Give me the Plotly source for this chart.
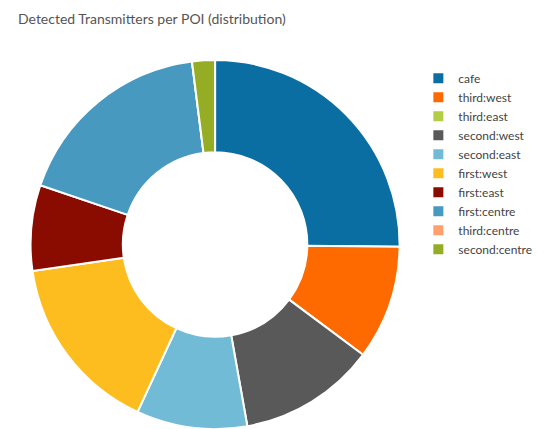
import plotly.graph_objects as go

labels = ["cafe", "third:west", "third:east", "second:west", "second:east",
          "first:west", "first:east", "first:centre", "third:centre", "second:centre"]
values = [25.2, 10.0, 0, 12.0, 9.7, 15.8, 7.5, 17.8, 0, 2.0]
colors = ["#0b6ea2", "#ff6a00", "#b3cd45", "#595959", "#71bbd6",
          "#fdbd1f", "#8a0b00", "#4899c0", "#ffa06e", "#95ad24"]

fig = go.Figure(go.Pie(
    labels=labels, values=values, hole=0.5, sort=False,
    direction="clockwise", rotation=0, textinfo="none",
    marker=dict(colors=colors, line=dict(color="white", width=2)),
    domain=dict(x=[0.0, 0.72], y=[0, 1]),
))

fig.update_layout(
    width=555, height=429,
    paper_bgcolor="white",
    font=dict(family="Lato", size=12, color="#444"),
    title=dict(text="Detected Transmitters per POI (distribution)", x=0.018, y=0.985,
               font=dict(size=14, color="#555")),
    legend=dict(x=0.745, y=0.99, yanchor="top", font=dict(size=12, color="#444"),
                tracegroupgap=0),
    margin=dict(l=17, r=10, t=52, b=8),
)

fig.write_html("out.html")
